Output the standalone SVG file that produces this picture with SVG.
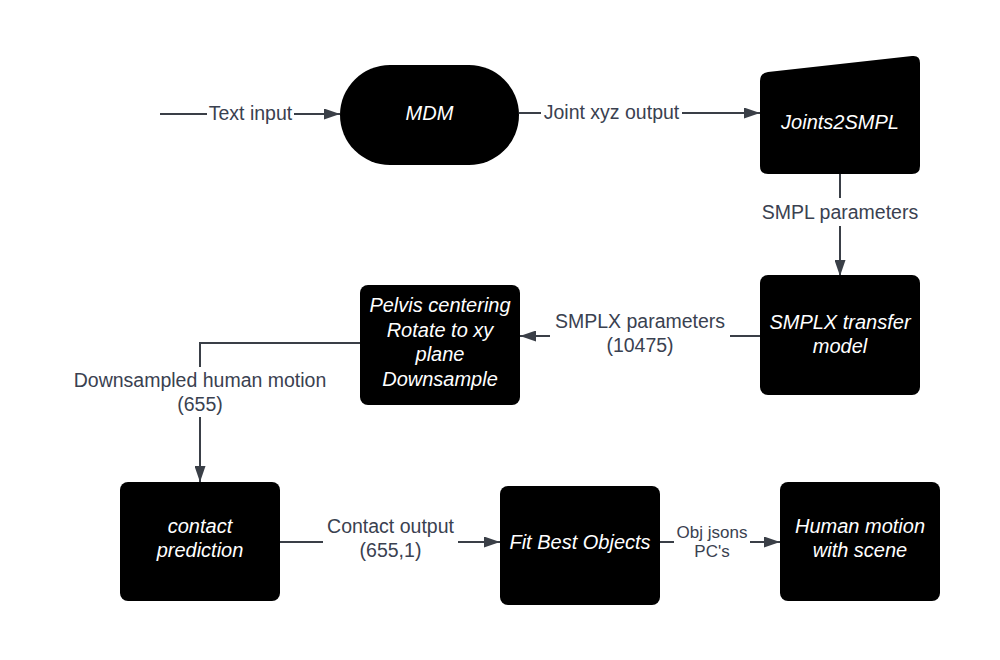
<svg xmlns="http://www.w3.org/2000/svg" width="1000" height="660" viewBox="0 0 1000 660">
<style>
.node{fill:#000}
.nt{font-family:"Liberation Sans",Arial,sans-serif;font-size:20px;font-style:italic;fill:#fff;text-anchor:middle}
.ln{stroke:#3a3f47;stroke-width:2;fill:none}
.lbl{font-family:"Liberation Sans",Arial,sans-serif;font-size:19.5px;fill:#3a4150;text-anchor:middle}
.sm{font-size:17px}
.bg{fill:#fff}
</style>
<defs>
<marker id="arr" viewBox="0 0 16 11" refX="16" refY="5.5" markerWidth="16" markerHeight="11" markerUnits="userSpaceOnUse" orient="auto">
<path d="M0,0 L16,5.5 L0,11 z" fill="#3a3f47"/>
</marker>
</defs>
<rect width="1000" height="660" fill="#fff"/>
<g id="connectors">
<path class="ln" d="M160,114 H340" marker-end="url(#arr)"/>
<rect class="bg" x="207" y="100" width="87" height="26"/>
<text class="lbl" x="250.5" y="120">Text input</text>
<path class="ln" d="M519,113 H760" marker-end="url(#arr)"/>
<rect class="bg" x="541" y="99" width="141" height="26"/>
<text class="lbl" x="611.5" y="119">Joint xyz output</text>
<path class="ln" d="M840,174 V276" marker-end="url(#arr)"/>
<rect class="bg" x="758" y="198" width="164" height="28"/>
<text class="lbl" x="840" y="219">SMPL parameters</text>
<path class="ln" d="M760,336 H520" marker-end="url(#arr)"/>
<rect class="bg" x="550" y="308" width="180" height="50"/>
<text class="lbl" x="640" y="328">SMPLX parameters</text>
<text class="lbl" x="640" y="352">(10475)</text>
<path class="ln" d="M360,343 H200 V482" marker-end="url(#arr)"/>
<rect class="bg" x="68" y="367" width="264" height="50"/>
<text class="lbl" x="200" y="387">Downsampled human motion</text>
<text class="lbl" x="200" y="411">(655)</text>
<path class="ln" d="M280,542 H500" marker-end="url(#arr)"/>
<rect class="bg" x="323" y="513" width="135" height="50"/>
<text class="lbl" x="390.5" y="533">Contact output</text>
<text class="lbl" x="390.5" y="557">(655,1)</text>
<path class="ln" d="M660,542 H780" marker-end="url(#arr)"/>
<rect class="bg" x="674" y="520" width="76" height="42"/>
<text class="lbl sm" x="712" y="538">Obj jsons</text>
<text class="lbl sm" x="712" y="557">PC's</text>
</g>
<g id="mdm">
<rect class="node" x="340" y="65" width="179" height="100" rx="50" ry="50"/>
<text class="nt" x="429.5" y="120">MDM</text>
</g>
<g id="joints2smpl">
<path class="node" d="M768,72 L912,56 Q920,55 920,63 V166 Q920,174 912,174 H768 Q760,174 760,166 V81 Q760,73 768,72 Z"/>
<text class="nt" x="840" y="129">Joints2SMPL</text>
</g>
<g id="smplx">
<rect class="node" x="760" y="275" width="160" height="120" rx="8"/>
<text class="nt" x="840" y="329">SMPLX transfer</text>
<text class="nt" x="840" y="353">model</text>
</g>
<g id="pelvis">
<rect class="node" x="360" y="285" width="160" height="120" rx="8"/>
<text class="nt" x="440" y="312">Pelvis centering</text>
<text class="nt" x="440" y="337">Rotate to xy</text>
<text class="nt" x="440" y="361">plane</text>
<text class="nt" x="440" y="386">Downsample</text>
</g>
<g id="contact">
<rect class="node" x="120" y="482" width="160" height="119" rx="8"/>
<text class="nt" x="200" y="533">contact</text>
<text class="nt" x="200" y="557">prediction</text>
</g>
<g id="fit">
<rect class="node" x="500" y="486" width="160" height="119" rx="8"/>
<text class="nt" x="580" y="549">Fit Best Objects</text>
</g>
<g id="human">
<rect class="node" x="780" y="482" width="160" height="119" rx="8"/>
<text class="nt" x="860" y="533">Human motion</text>
<text class="nt" x="860" y="557">with scene</text>
</g>
</svg>
